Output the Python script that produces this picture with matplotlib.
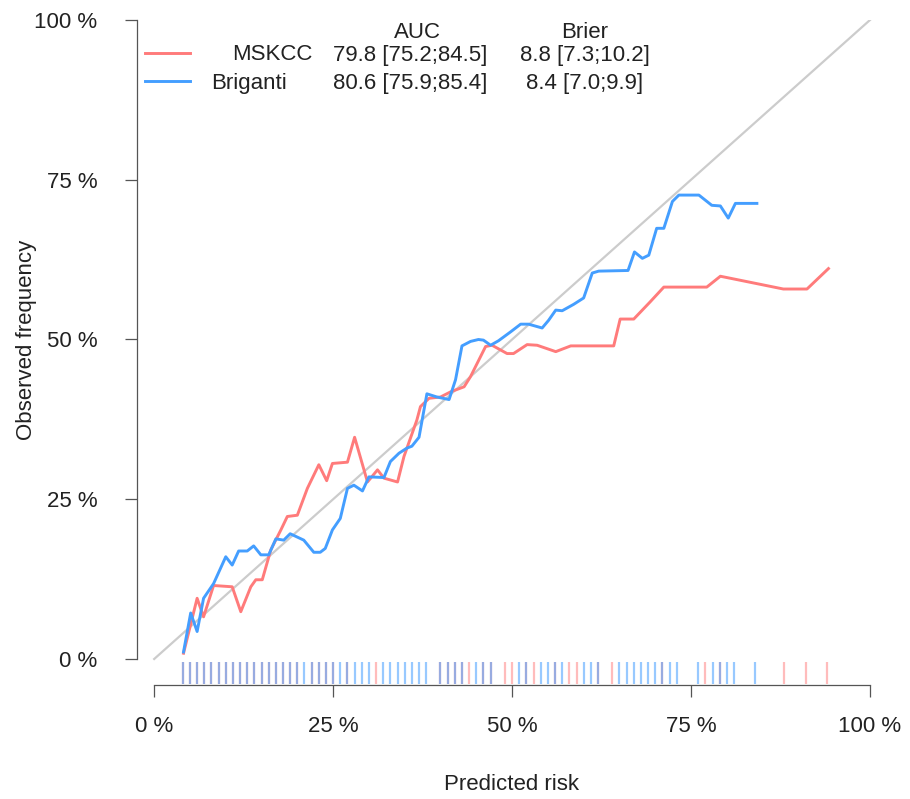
import numpy as np
import matplotlib
matplotlib.use("Agg")
from matplotlib import pyplot as plt
from matplotlib.lines import Line2D

plt.rcParams['font.family'] = ['Liberation Sans', 'DejaVu Sans']

W, H = 910, 799
RED = '#FF7B7B'
BLUE = '#449EFF'
FS = 16

# calibration curves (predicted risk %, observed frequency %)
msk_x = [4.1, 6.0, 6.9, 8.3, 10.9, 12.1, 13.5, 14.2, 15.1, 16.3, 17.7, 18.6, 20.0, 21.4, 23.0,
         24.1, 24.9, 27.0, 28.0, 29.8, 31.2, 32.1, 34.0, 34.9, 36.7, 37.2, 38.4, 40.0, 41.4,
         43.3, 44.2, 46.3, 47.2, 49.3, 50.2, 52.1, 53.5, 56.1, 58.2, 64.2, 65.1, 67.0, 69.3,
         71.2, 77.2, 79.1, 87.9, 91.2, 94.2]
msk_y = [0.9, 9.5, 6.6, 11.5, 11.3, 7.4, 11.3, 12.4, 12.4, 17.1, 20.2, 22.3, 22.5, 26.7, 30.4,
         27.9, 30.6, 30.8, 34.7, 27.7, 29.6, 28.3, 27.7, 31.7, 37.4, 39.5, 40.8, 41.0, 41.8,
         42.6, 44.2, 48.9, 49.1, 47.8, 47.8, 49.2, 49.1, 48.1, 49.0, 49.0, 53.2, 53.2, 55.9,
         58.2, 58.2, 59.9, 57.9, 57.9, 61.1]

brig_x = [4.1, 5.1, 6.0, 6.9, 8.3, 10.0, 10.9, 11.8, 13.0, 13.9, 14.9, 16.0, 17.0, 18.1, 19.0,
          20.9, 22.3, 23.2, 23.9, 24.9, 26.0, 27.0, 27.9, 29.1, 30.0, 32.1, 33.0, 34.2, 35.3,
          36.0, 37.0, 38.1, 39.5, 41.2, 42.1, 43.0, 44.2, 45.3, 46.0, 47.0, 48.1, 49.8, 51.2,
          52.3, 54.2, 55.1, 56.1, 57.0, 58.6, 60.0, 61.2, 62.1, 66.2, 67.1, 68.2, 69.1, 70.2,
          71.2, 72.4, 73.3, 76.1, 77.9, 79.1, 80.2, 81.2, 84.2]
brig_y = [1.1, 7.2, 4.3, 9.5, 11.8, 16.0, 14.7, 16.9, 16.9, 17.7, 16.3, 16.3, 18.8, 18.6, 19.6,
          18.6, 16.7, 16.7, 17.3, 20.2, 22.0, 26.7, 27.2, 26.3, 28.5, 28.4, 30.9, 32.2, 33.0,
          33.3, 34.7, 41.5, 41.0, 40.6, 43.7, 49.0, 49.7, 50.0, 49.9, 49.1, 49.8, 51.2, 52.4,
          52.4, 51.8, 53.0, 54.6, 54.5, 55.5, 56.5, 60.4, 60.7, 60.8, 63.7, 62.7, 63.2, 67.4,
          67.4, 71.6, 72.6, 72.6, 71.0, 70.9, 69.0, 71.3, 71.3]

# rug of predicted risks
msk_rug = list(range(4, 21)) + [22, 23, 24, 25, 27, 31, 40, 41, 42, 43, 44, 46, 47, 49, 50,
                                52, 53, 56, 58, 59, 62, 64, 71, 77, 79, 88, 91, 94]
brig_rug = list(range(4, 31)) + [32, 33, 34, 35, 36, 37, 38, 40, 41, 42, 43, 45, 46, 47, 51,
                                 52, 54, 55, 56, 57, 60, 61, 62, 65, 66, 67, 68, 69, 70, 71,
                                 72, 73, 76, 78, 79, 80, 81, 84]

models = ['MSKCC', 'Briganti']
auc = ['79.8 [75.2;84.5]', '80.6 [75.9;85.4]']
brier = ['8.8 [7.3;10.2]', '8.4 [7.0;9.9]']

ticks = [0, 25, 50, 75, 100]
tick_labels = ['0 %', '25 %', '50 %', '75 %', '100 %']


def px(x, y):
    return x / W, 1 - y / H


fig = plt.figure(figsize=(W / 100, H / 100), dpi=100)
ax = fig.add_axes([137 / W, 1 - 685 / H, (880 - 137) / W, (685 - 20) / H])
ax.set_xlim(-2.4, 101.4)
ax.set_ylim(-4.07, 100)

ax.plot([0, 100], [0, 100], color='#CCCCCC', lw=1.6, zorder=1)
ax.vlines(msk_rug, -3.9, -0.4, color=RED, alpha=0.5, lw=1.6, zorder=2)
ax.vlines(brig_rug, -3.9, -0.4, color=BLUE, alpha=0.55, lw=1.6, zorder=2)
ax.plot(msk_x, msk_y, color=RED, lw=2.1, zorder=3)
ax.plot(brig_x, brig_y, color=BLUE, lw=2.1, zorder=4)

for s in ['top', 'right']:
    ax.spines[s].set_visible(False)
ax.spines['left'].set_bounds(0, 100)
ax.spines['bottom'].set_bounds(0, 100)
for s in ['left', 'bottom']:
    ax.spines[s].set_color('#555555')
    ax.spines[s].set_linewidth(0.9)

ax.set_xticks(ticks)
ax.set_xticklabels(tick_labels)
ax.set_yticks(ticks)
ax.set_yticklabels(tick_labels)
ax.tick_params(axis='both', direction='out', length=8.5, width=0.9, color='#555555',
               labelsize=FS, labelcolor='#222222')
ax.tick_params(axis='x', pad=14)
ax.tick_params(axis='y', pad=20)

fig.text(*px(512, 785), 'Predicted risk', ha='center', va='center', fontsize=FS, color='#222222')
fig.text(*px(27, 340), 'Observed frequency', ha='center', va='center', rotation=90,
         fontsize=FS, color='#222222')

# legend drawn by hand
fig.text(*px(417, 32), 'AUC', ha='center', va='center', fontsize=FS, color='#222222')
fig.text(*px(585, 32), 'Brier', ha='center', va='center', fontsize=FS, color='#222222')
rows = [(55, 232, RED), (83, 211, BLUE)]
for i, (yy, xname, col) in enumerate(rows):
    x0, y0 = px(145, yy - 2)
    x1, _ = px(190, yy - 2)
    fig.add_artist(Line2D([x0, x1], [y0, y0], color=col, lw=2.1))
    fig.text(*px(xname, yy), models[i], ha='left', va='center', fontsize=FS, color='#222222')
    fig.text(*px(333, yy), auc[i], ha='left', va='center', fontsize=FS, color='#222222')
    fig.text(*px(585, yy), brier[i], ha='center', va='center', fontsize=FS, color='#222222')

fig.savefig('out.png', dpi=100, facecolor='white')
